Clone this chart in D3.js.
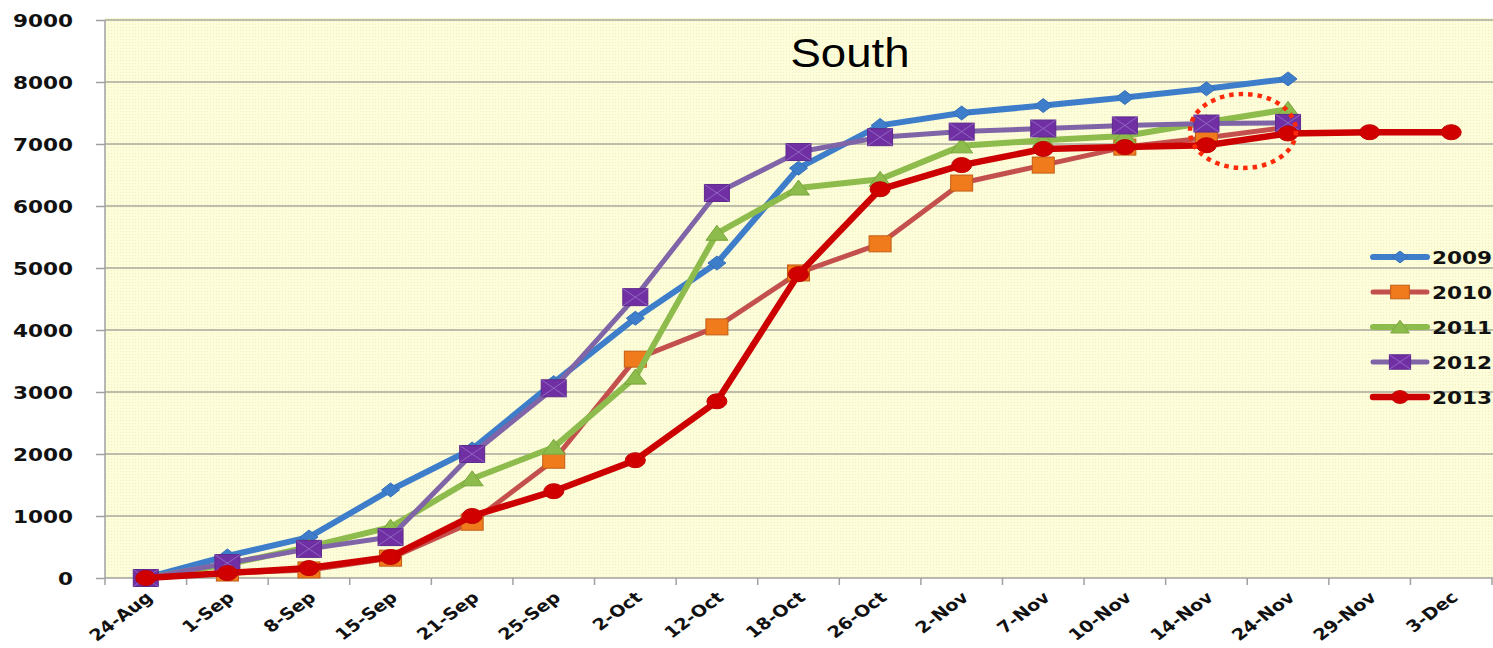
<!DOCTYPE html>
<html><head><meta charset="utf-8">
<script src="https://cdn.jsdelivr.net/npm/d3@7"></script>
<style>html,body{margin:0;padding:0;background:#fff;}svg{display:block;}</style>
</head><body>
<svg id="chart" width="1493" height="648"></svg>
<script>
const categories = ["24-Aug","1-Sep","8-Sep","15-Sep","21-Sep","25-Sep","2-Oct","12-Oct","18-Oct","26-Oct","2-Nov","7-Nov","10-Nov","14-Nov","24-Nov","29-Nov","3-Dec"];
const s2009 = [0,355,660,1420,2080,3150,4190,5080,6610,7300,7500,7620,7750,7890,8050];
const s2010 = [0,80,130,320,900,1900,3530,4050,4920,5390,6370,6660,6950,7100,7270];
const s2011 = [0,220,500,820,1600,2110,3240,5560,6290,6430,6970,7060,7130,7350,7560];
const s2012 = [0,240,470,660,2000,3060,4530,6210,6870,7110,7200,7250,7300,7330,7340];
const s2013 = [0,80,160,340,1000,1400,1900,2850,4900,6270,6660,6920,6950,6980,7170,7190,7190];
const seriesNames = ["2009","2010","2011","2012","2013"];
const yTicks = [0,1000,2000,3000,4000,5000,6000,7000,8000,9000];
const title = "South";

const seriesData = [s2009,s2010,s2011,s2012,s2013];
const styles = [
  {line:"#3d7dca", width:6, marker:"diamond", fill:"#3d7dca", stroke:"#3470b8"},
  {line:"#c4504d", width:5, marker:"square", fill:"#f07b1d", stroke:"#c25c14"},
  {line:"#8dbb4c", width:6, marker:"triangle", fill:"#8dbb4c", stroke:"#7aa63c"},
  {line:"#8064a8", width:5, marker:"xsquare", fill:"#7030a4", stroke:"#5e2a8c"},
  {line:"#cc0000", width:6.5, marker:"circle", fill:"#d10000", stroke:"#c00000"}
];

const svg = d3.select("#chart");
const L = 105, R = 1492, T = 20, B = 578;
const x = d3.scaleBand().domain(categories).range([L, R]);
const y = d3.scaleLinear().domain([0, 9000]).range([B, T]);
const SX = 1.2;

// background pattern
const defs = svg.append("defs");
const pat = defs.append("pattern").attr("id","dots").attr("width",3).attr("height",3).attr("patternUnits","userSpaceOnUse");
pat.append("rect").attr("width",3).attr("height",3).attr("fill","#fdfdda");
pat.append("rect").attr("width",1).attr("height",1).attr("fill","#efefc6");
svg.append("rect").attr("x",L).attr("y",T-2).attr("width",R-L+1).attr("height",B-T+2).attr("fill","url(#dots)");

// gridlines
svg.append("g").selectAll("line").data(yTicks.filter(d=>d>0)).join("line")
  .attr("x1",L).attr("x2",R+1).attr("y1",d=>y(d)).attr("y2",d=>y(d))
  .attr("stroke","#a9a89c").attr("stroke-width",1.5);

// y axis
const yAxis = svg.append("g").attr("transform",`translate(${L},0)`)
  .call(d3.axisLeft(y).tickValues(yTicks).tickSize(9).tickPadding(0).tickFormat(d3.format("d")));
yAxis.select(".domain").attr("stroke","#a0a0a0").attr("stroke-width",1.5).attr("d",`M0,${T}V${B}`);
yAxis.selectAll(".tick line").attr("stroke","#a0a0a0").attr("stroke-width",1.5);
yAxis.selectAll(".tick text").each(function(d){
  d3.select(this).attr("x",null).attr("dy",null)
    .attr("transform",`translate(-32,6.5) scale(${SX},1)`)
    .attr("text-anchor","end")
    .style("font-family","'DejaVu Sans'").style("font-weight","bold").style("font-size","18px").attr("fill","#111");
});

// x axis
const xg = svg.append("g");
xg.append("line").attr("x1",L).attr("x2",R+1).attr("y1",B).attr("y2",B).attr("stroke","#a0a0a0").attr("stroke-width",1.5);
const bounds = categories.map(c=>x(c)).concat([R]);
xg.selectAll("line.tk").data(bounds).join("line").attr("class","tk")
  .attr("x1",d=>d).attr("x2",d=>d).attr("y1",B).attr("y2",B+7).attr("stroke","#a0a0a0").attr("stroke-width",1.5);
xg.selectAll("text").data(categories).join("text")
  .attr("transform",d=>`translate(${x(d)+x.bandwidth()/2+8},${B+21}) scale(${SX},1) rotate(-42)`)
  .attr("text-anchor","end")
  .style("font-family","'DejaVu Sans'").style("font-weight","bold").style("font-size","16px").attr("fill","#111")
  .text(d=>d);

// title
svg.append("text").attr("transform",`translate(850,67) scale(1.14,1)`).attr("text-anchor","middle")
  .style("font-family","'Liberation Sans'").style("font-size","40px").attr("fill","#000").text(title);

const cx = (i)=> x(categories[i]) + x.bandwidth()/2;

function drawMarker(g, type, px, py, st, scale=1){
  if(type==="diamond"){
    g.append("path").attr("d",`M${px-9*scale},${py}L${px},${py-7*scale}L${px+9*scale},${py}L${px},${py+7*scale}Z`)
      .attr("fill",st.fill).attr("stroke",st.stroke).attr("stroke-width",1);
  } else if(type==="square"){
    g.append("rect").attr("x",px-11*scale).attr("y",py-8*scale).attr("width",22*scale).attr("height",16*scale)
      .attr("fill",st.fill).attr("stroke",st.stroke).attr("stroke-width",1);
  } else if(type==="triangle"){
    g.append("path").attr("d",`M${px},${py-8*scale}L${px+11*scale},${py+7*scale}L${px-11*scale},${py+7*scale}Z`)
      .attr("fill",st.fill).attr("stroke",st.stroke).attr("stroke-width",1);
  } else if(type==="xsquare"){
    const w=25*scale,h=17*scale;
    g.append("rect").attr("x",px-w/2).attr("y",py-h/2).attr("width",w).attr("height",h)
      .attr("fill",st.fill).attr("stroke",st.stroke).attr("stroke-width",1);
    g.append("path").attr("d",`M${px-w/2},${py-h/2}L${px+w/2},${py+h/2}M${px+w/2},${py-h/2}L${px-w/2},${py+h/2}`)
      .attr("stroke","#9a72c8").attr("stroke-width",1).attr("opacity",0.8);
  } else if(type==="circle"){
    g.append("ellipse").attr("cx",px).attr("cy",py).attr("rx",10*scale).attr("ry",7.5*scale)
      .attr("fill",st.fill).attr("stroke",st.stroke).attr("stroke-width",1);
  }
}

const line = d3.line().x((d,i)=>cx(i)).y(d=>y(d));
seriesData.forEach((data,si)=>{
  const st = styles[si];
  const g = svg.append("g");
  g.append("path").datum(data).attr("d",line).attr("fill","none")
    .attr("stroke",st.line).attr("stroke-width",st.width).attr("stroke-linejoin","round").attr("stroke-linecap","round");
  data.forEach((v,i)=>drawMarker(g, st.marker, cx(i), y(v), st));
});

// red dotted ellipse annotation
svg.append("ellipse").attr("cx",1243).attr("cy",131).attr("rx",53).attr("ry",37)
  .attr("fill","none").attr("stroke","#ff2a0a").attr("stroke-width",4.5).attr("stroke-dasharray","4.5 5");

// legend
const legY = [257,292,327,362,397];
seriesNames.forEach((n,i)=>{
  const st = styles[i];
  const g = svg.append("g");
  g.append("line").attr("x1",1373).attr("x2",1427).attr("y1",legY[i]).attr("y2",legY[i])
    .attr("stroke",st.line).attr("stroke-width",st.width).attr("stroke-linecap","round");
  drawMarker(g, st.marker, 1400, legY[i], st, 0.85);
  g.append("text").attr("transform",`translate(1432,${legY[i]+7}) scale(${SX},1)`)
    .style("font-family","'DejaVu Sans'").style("font-weight","bold").style("font-size","18px").attr("fill","#111").text(n);
});
</script>
</body></html>
